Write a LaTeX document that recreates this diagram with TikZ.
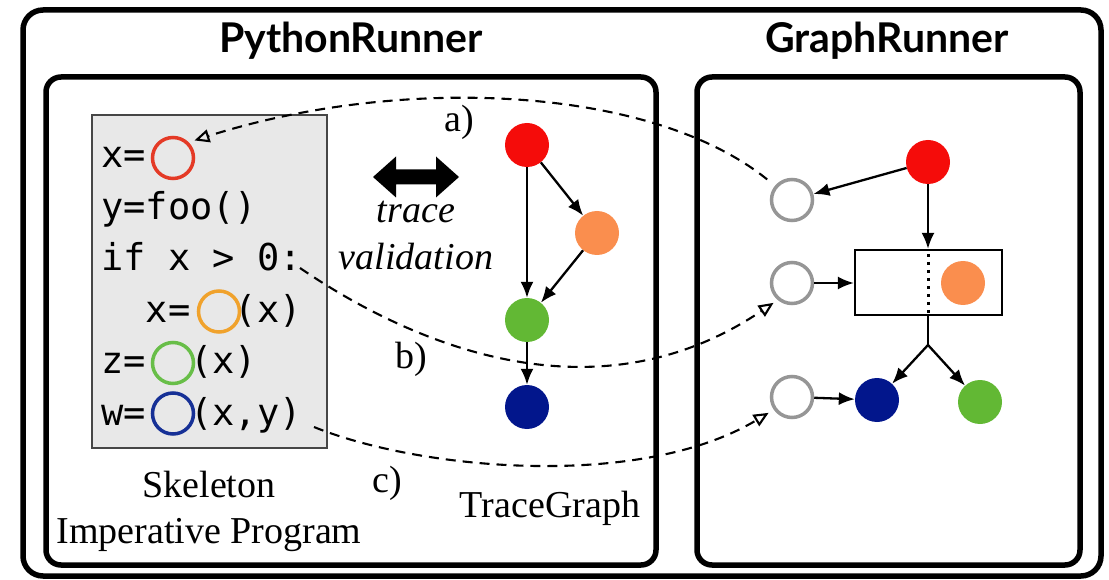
\documentclass[tikz,border=0pt]{standalone}
\usepackage{fontspec}
\setmainfont{Liberation Serif}
\setmonofont{DejaVu Sans Mono}
\newfontfamily\titlefont{Lato}
\usetikzlibrary{arrows.meta,calc}
\definecolor{nRed}{RGB}{245,12,10}
\definecolor{nOrange}{RGB}{250,142,78}
\definecolor{nGreen}{RGB}{98,184,52}
\definecolor{nNavy}{RGB}{2,22,140}
\definecolor{cRed}{RGB}{228,58,38}
\definecolor{cOrange}{RGB}{240,162,44}
\definecolor{cGreen}{RGB}{104,190,72}
\definecolor{cBlue}{RGB}{22,48,150}
\definecolor{wGray}{RGB}{150,150,150}
\definecolor{codebg}{RGB}{232,232,232}
\definecolor{codeedge}{RGB}{70,70,70}
\begin{document}
\begin{tikzpicture}[x=1pt,y=-1pt,
  frame/.style={line width=5.5pt, rounded corners=20pt},
  dot/.style={circle, minimum size=44pt, inner sep=0pt, draw=none},
  codec/.style={circle, minimum size=41pt, inner sep=0pt, line width=3.5pt, draw},
  wcirc/.style={circle, minimum size=41pt, inner sep=0pt, line width=3.5pt, draw=wGray, fill=white},
  codetext/.style={anchor=base west, inner sep=0pt, font=\ttfamily\fontsize{37}{44}\selectfont},
  lbl/.style={font=\fontsize{38}{46}\selectfont, anchor=base, inner sep=0pt},
  ttl/.style={font=\titlefont\bfseries\fontsize{41}{48}\selectfont, anchor=base, inner sep=0pt},
  edge/.style={line width=2.3pt, -{Latex[length=16pt,width=13pt]}},
  dashline/.style={line width=2.1pt, dash pattern=on 10pt off 7pt, -{Triangle[open,length=15pt,width=13pt,line width=2.1pt]}}
]
\useasboundingbox (0,0) rectangle (1109,580);

% frames
\draw[frame] (23,10) rectangle (1101,576);
\draw[frame, rounded corners=15pt] (46,77) rectangle (656,565);
\draw[frame, rounded corners=15pt] (697,77) rectangle (1080,565);

% titles
\node[ttl] (t1) at (351,53) {PythonRunner};
\node[ttl] (t2) at (887,53) {GraphRunner};

% code box
\draw[fill=codebg, draw=codeedge, line width=2pt] (92,115) rectangle (327,448);
\node[codetext] (l1) at (101,168) {x=};
\node[codetext] (l2) at (101,219.4) {y=foo()};
\node[codetext] (l3) at (101,270.8) {if x > 0:};
\node[codetext] (l4) at (101,322.2) {\hphantom{xx}x=\hphantom{xx}(x)};
\node[codetext] (l5) at (101,373.6) {z=\hphantom{xx}(x)};
\node[codetext] (l6) at (101,425) {w=\hphantom{xx}(x,y)};
\node[codec, draw=cRed] (c1) at (173,158) {};
\node[codec, draw=cOrange] (c4) at (219,311.5) {};
\node[codec, draw=cGreen] (c5) at (173,363) {};
\node[codec, draw=cBlue] (c6) at (173,413.5) {};

% labels left
\node[lbl] (sk1) at (209,497) {Skeleton};
\node[lbl] (sk2) at (209,543) {Imperative Program};
\node[lbl] (tg) at (550,517) {TraceGraph};
\node[lbl] (tv1) at (416,223) {\itshape trace};
\node[lbl] (tv2) at (416,270) {\itshape validation};
\node[lbl] (la) at (459,132) {a)};
\node[lbl] (lb) at (411,368) {b)};
\node[lbl] (lc) at (387,492) {c)};

% double arrow
\fill (373,177) -- (396,156.5) -- (396,169.5) -- (436,169.5) -- (436,156.5) -- (459,177)
  -- (436,197.5) -- (436,184.5) -- (396,184.5) -- (396,197.5) -- cycle;

% trace graph
\node[dot, fill=nRed] (tr) at (527,145) {};
\node[dot, fill=nOrange] (to) at (597,233) {};
\node[dot, fill=nGreen] (tgn) at (527,320) {};
\node[dot, fill=nNavy] (tn) at (527,407) {};
\draw[edge] (tr) -- (tgn);
\draw[edge] (tr) -- (to);
\draw[edge] (to) -- (tgn);
\draw[edge] (tgn) -- (tn);

% symbolic graph
\node[wcirc] (w1) at (792,200) {};
\node[wcirc] (w2) at (792,283) {};
\node[wcirc] (w3) at (792,397) {};
\node[dot, fill=nRed] (sr) at (928,162) {};
\node[draw, line width=2.2pt, minimum width=147pt, minimum height=65pt, inner sep=0pt] (bx) at (928.5,282.5) {};
\draw[line width=3pt, dash pattern=on 3pt off 5pt] ($(bx.north)+(0,5)$) -- ($(bx.south)+(0,-3)$);
\node[dot, fill=nOrange] (so) at (963,283) {};
\node[dot, fill=nNavy] (sn) at (877,400) {};
\node[dot, fill=nGreen] (sg) at (980,402) {};
\coordinate (br) at (928,345);
\draw[edge] (sr) -- (w1);
\draw[edge] (sr) -- (bx.north -| sr);
\draw[edge] (w2) -- (bx.west |- w2);
\draw[line width=2.3pt] (bx.south -| br) -- (br);
\draw[edge] (br) -- (sn);
\draw[edge] (br) -- (sg);
\draw[edge] (w3) -- (sn);

% dashed correspondences
\coordinate (b0) at (300,268);
\coordinate (c0) at (314,427);
\draw[dashline, shorten <=10pt, shorten >=6pt] (w1.140) .. controls (650,85) and (400,75) .. (c1.45);
\draw[dashline, shorten >=5pt] (b0) .. controls (420,350) and (600,420) .. (w2.230);
\draw[dashline, shorten >=6pt] (c0) .. controls (420,470) and (640,490) .. (w3.215);
\end{tikzpicture}
\end{document}
